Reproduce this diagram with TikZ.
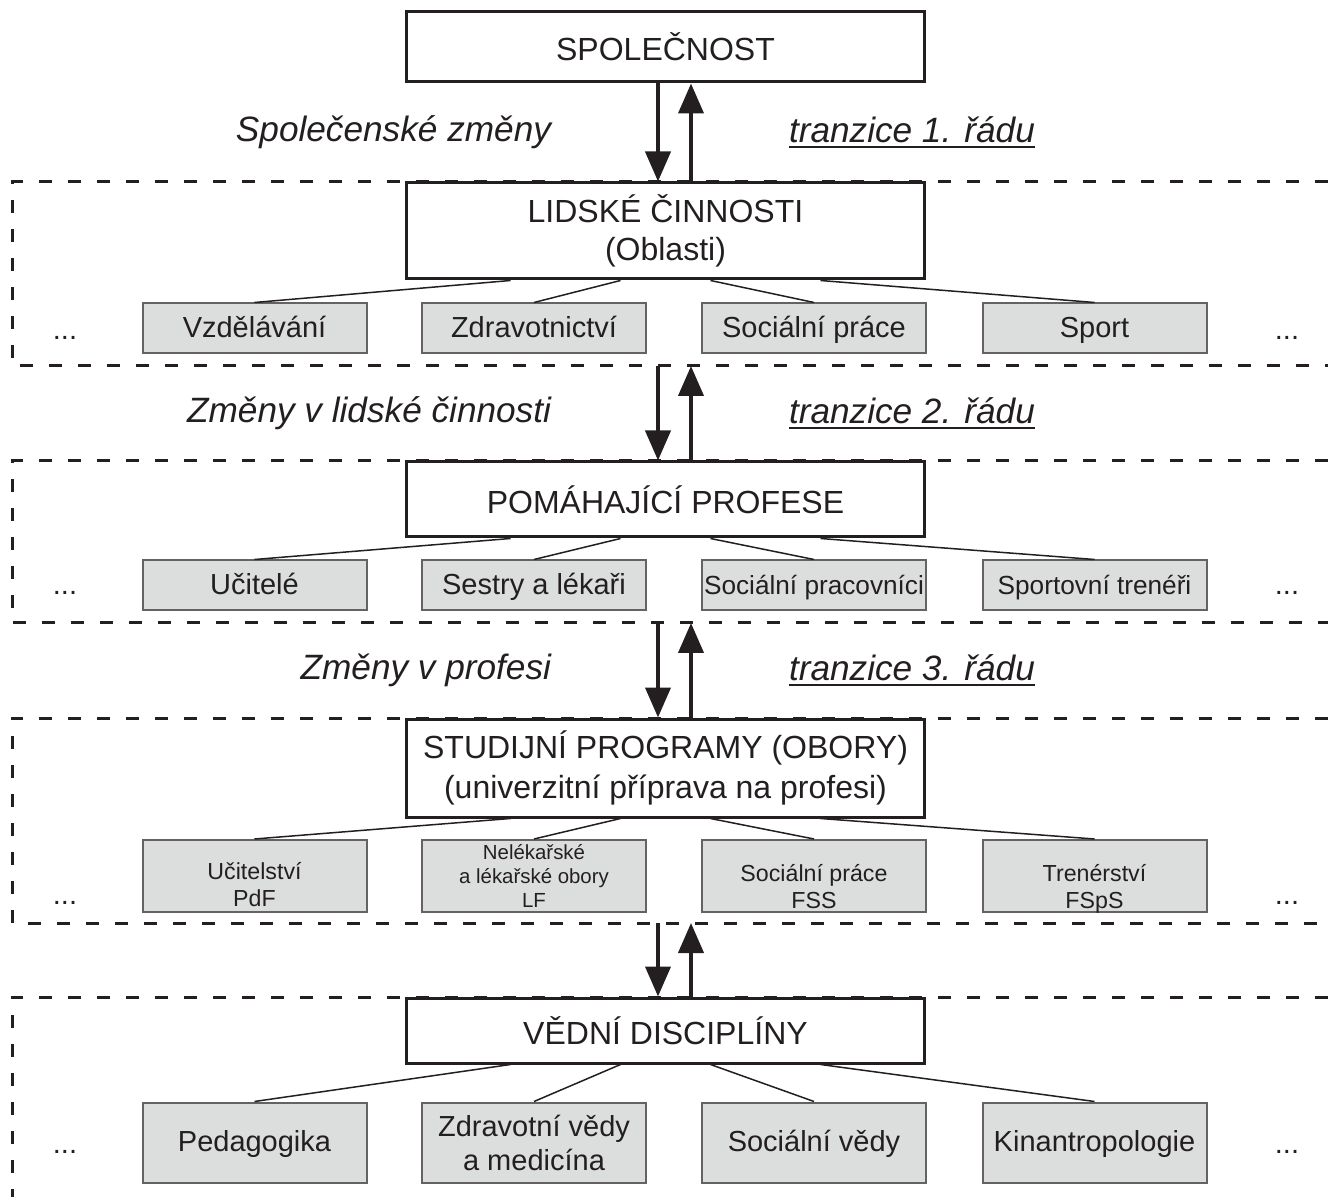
\documentclass[tikz,border=0pt]{standalone}
\usepackage{fontspec}
\setmainfont{Liberation Sans}
\usetikzlibrary{arrows.meta}
\usetikzlibrary{positioning}
\definecolor{ink}{HTML}{231F20}
\definecolor{sedy}{HTML}{DCDDDD}
\newcommand{\podtrh}[1]{\setbox0\hbox{#1}\rlap{\rule[-3pt]{\wd0}{1pt}}\box0}

\begin{document}
\begin{tikzpicture}[x=0.5pt,y=-0.5pt,>={Triangle[length=15pt,width=12.5pt]},
  hlavni/.style={draw=ink,line width=1.5pt,fill=white,minimum width=259pt,inner sep=0pt,align=center,text=ink,font=\fontsize{16}{19}\selectfont},
  oblast/.style={draw=ink!70,line width=1pt,fill=sedy,minimum width=112pt,inner sep=0pt,align=center,text=ink,font=\fontsize{14.5}{17}\selectfont},
  jeden/.style={text height=0.92em,text depth=0pt},
  text3/.style={inner sep=0pt,align=center,text=ink,font=\fontsize{11.6}{13.5}\selectfont},
  hrana/.style={draw=ink,line width=0.75pt},
  sipka/.style={->,draw=ink,line width=2pt},
  ramec/.style={draw=ink,line width=1.5pt,dash pattern=on 6.5pt off 8pt},
  popis/.style={inner sep=0pt,text=ink,font=\fontsize{17.6}{20}\selectfont\itshape},
  tecky/.style={inner sep=0pt,text=ink,font=\fontsize{14.5}{17}\selectfont}]
\useasboundingbox (0,0) rectangle (1328,1197);

% ramce urovni
\draw[ramec] (1328,182) -| (12,366) -- (1328,366);
\draw[ramec] (1328,461) -| (12,623) -- (1328,623);
\draw[ramec] (1328,718) -| (12,923) -- (1328,923);
\draw[ramec] (1328,997) -| (12,1197);
\coordinate (r1) at (665.5,366);
\coordinate (r2) at (665.5,623);
\coordinate (r3) at (665.5,923);

% hlavni bloky
\node[hlavni,minimum height=35pt] (spol) at (665.5,47) {SPOLEČNOST};
\node[hlavni,minimum height=48pt] (cin) at (665.5,231) {LIDSKÉ ČINNOSTI\\(Oblasti)};
\node[hlavni,minimum height=37.5pt] (prof) at (665.5,499.5) {POMÁHAJÍCÍ PROFESE};
\node[hlavni,minimum height=49pt,font=\fontsize{16}{20}\selectfont] (prog) at (665.5,768) {STUDIJNÍ PROGRAMY (OBORY)\\(univerzitní příprava na profesi)};
\node[hlavni,minimum height=32.5pt] (ved) at (665.5,1030.5) {VĚDNÍ DISCIPLÍNY};

% oblasti
\node[oblast,jeden,minimum height=25pt] (vzd) at (254.5,328.5) {Vzdělávání};
\node[oblast,jeden,minimum height=25pt] (zdr) at (534,328.5) {Zdravotnictví};
\node[oblast,jeden,minimum height=25pt] (soc) at (814,328.5) {Sociální práce};
\node[oblast,jeden,minimum height=25pt] (spo) at (1094.5,328.5) {Sport};
\node[tecky] (t1l) at (65,338) {...};
\node[tecky] (t1p) at (1287,338) {...};

% profese
\node[oblast,jeden,minimum height=25pt] (uci) at (254.5,585.5) {Učitelé};
\node[oblast,jeden,minimum height=25pt] (ses) at (534,585.5) {Sestry a lékaři};
\node[oblast,jeden,minimum height=25pt,font=\fontsize{13.1}{16}\selectfont] (pra) at (814,585.5) {Sociální pracovníci};
\node[oblast,jeden,minimum height=25pt,font=\fontsize{13.1}{16}\selectfont] (tre) at (1094.5,585.5) {Sportovní trenéři};
\node[tecky] (t2l) at (65,593) {...};
\node[tecky] (t2p) at (1287,593) {...};

% studijni programy
\node[oblast,minimum height=36pt] (pdf) at (254.5,876) {};
\node[oblast,minimum height=36pt,font=\fontsize{10.2}{11.8}\selectfont] (lf) at (534,876) {Nelékařské\\a lékařské obory\\LF};
\node[oblast,minimum height=36pt] (fss) at (814,876) {};
\node[oblast,minimum height=36pt] (fsps) at (1094.5,876) {};
\node[text3] (pdft) at (254.5,885) {Učitelství\\PdF};
\node[text3] (fsst) at (814,887) {Sociální práce\\FSS};
\node[text3] (fspst) at (1094.5,889) {Trenérství\\FSpS};
\node[tecky] (t3l) at (65,903) {...};
\node[tecky] (t3p) at (1287,903) {...};

% vedni discipliny
\node[oblast,jeden,minimum height=40pt] (ped) at (254.5,1142.5) {Pedagogika};
\node[oblast,minimum height=40pt] (zve) at (534,1142.5) {Zdravotní vědy\\a medicína};
\node[oblast,jeden,minimum height=40pt] (sve) at (814,1142.5) {Sociální vědy};
\node[oblast,jeden,minimum height=40pt] (kin) at (1094.5,1142.5) {Kinantropologie};
\node[tecky] (t4l) at (65,1152) {...};
\node[tecky] (t4p) at (1287,1152) {...};

% vetveni
\draw[hrana] ([xshift=-77.5pt]cin.south) -- (vzd.north);
\draw[hrana] ([xshift=-22.5pt]cin.south) -- (zdr.north);
\draw[hrana] ([xshift=22.5pt]cin.south) -- (soc.north);
\draw[hrana] ([xshift=77.5pt]cin.south) -- (spo.north);
\draw[hrana] ([xshift=-77.5pt]prof.south) -- (uci.north);
\draw[hrana] ([xshift=-22.5pt]prof.south) -- (ses.north);
\draw[hrana] ([xshift=22.5pt]prof.south) -- (pra.north);
\draw[hrana] ([xshift=77.5pt]prof.south) -- (tre.north);
\draw[hrana] ([xshift=-77.5pt]prog.south) -- (pdf.north);
\draw[hrana] ([xshift=-22.5pt]prog.south) -- (lf.north);
\draw[hrana] ([xshift=22.5pt]prog.south) -- (fss.north);
\draw[hrana] ([xshift=77.5pt]prog.south) -- (fsps.north);
\draw[hrana] ([xshift=-77.5pt]ved.south) -- (ped.north);
\draw[hrana] ([xshift=-22.5pt]ved.south) -- (zve.north);
\draw[hrana] ([xshift=22.5pt]ved.south) -- (sve.north);
\draw[hrana] ([xshift=77.5pt]ved.south) -- (kin.north);

% prechody mezi urovnemi
\draw[sipka] ([xshift=-3.75pt]spol.south) -- node[popis,left=52.5pt]{Společenské změny} ([xshift=-3.75pt]cin.north);
\draw[sipka] ([xshift=12.75pt]cin.north) -- node[popis,right=48pt]{\podtrh{tranzice 1. řádu}} ([xshift=12.75pt]spol.south);
\draw[sipka] ([xshift=-3.75pt]r1) -- node[popis,left=52.5pt]{Změny v lidské činnosti} ([xshift=-3.75pt]prof.north);
\draw[sipka] ([xshift=12.75pt]prof.north) -- node[popis,right=48pt]{\podtrh{tranzice 2. řádu}} ([xshift=12.75pt]r1);
\draw[sipka] ([xshift=-3.75pt]r2) -- node[popis,left=52.5pt]{Změny v profesi} ([xshift=-3.75pt]prog.north);
\draw[sipka] ([xshift=12.75pt]prog.north) -- node[popis,right=48pt]{\podtrh{tranzice 3. řádu}} ([xshift=12.75pt]r2);
\draw[sipka] ([xshift=-3.75pt]r3) -- ([xshift=-3.75pt]ved.north);
\draw[sipka] ([xshift=12.75pt]ved.north) -- ([xshift=12.75pt]r3);
\end{tikzpicture}
\end{document}
